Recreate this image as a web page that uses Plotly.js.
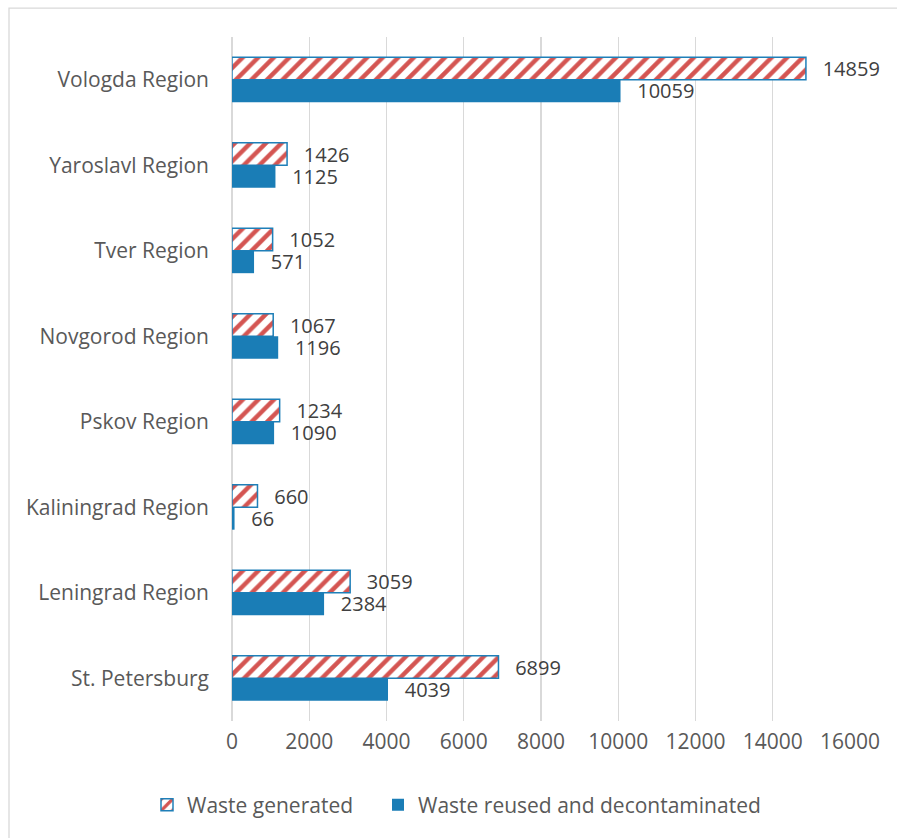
<!DOCTYPE html>
<html>
<head>
<meta charset="utf-8">
<script src="https://cdn.plot.ly/plotly-3.0.1.min.js"></script>
<style>html,body{margin:0;padding:0;background:#fff;}#chart{width:897px;height:838px;}</style>
</head>
<body>
<div id="chart"></div>
<script>
const regions = ["Vologda Region","Yaroslavl Region","Tver Region","Novgorod Region","Pskov Region","Kaliningrad Region","Leningrad Region","St. Petersburg"];
const wasteGenerated = [14859,1426,1052,1067,1234,660,3059,6899];
const wasteReused = [10059,1125,571,1196,1090,66,2384,4039];
const seriesNames = ["Waste generated","Waste reused and decontaminated"];
const xTicks = [0,2000,4000,6000,8000,10000,12000,14000,16000];

const FONT = "Open Sans, Noto Sans, sans-serif";
const PAD = "  \u2009";
const traces = [
  {
    type: "bar", orientation: "h", name: seriesNames[0], legend: "legend",
    y: regions, x: wasteGenerated,
    text: wasteGenerated.map(v => PAD + v), textposition: "outside",
    constraintext: "none",
    textfont: {size: 20, color: "#404040", family: FONT},
    cliponaxis: false,
    marker: {
      color: "#ffffff",
      line: {color: "#1f7fb8", width: 1.5},
      pattern: {shape: "/", fgcolor: "#d45552", bgcolor: "#ffffff", size: 11, solidity: 0.4}
    }
  },
  {
    type: "bar", orientation: "h", name: seriesNames[1], legend: "legend2",
    y: regions, x: wasteReused,
    text: wasteReused.map(v => PAD + v), textposition: "outside",
    constraintext: "none",
    textfont: {size: 20, color: "#404040", family: FONT},
    cliponaxis: false,
    marker: {color: "#1a7db6", line: {color: "#1a7db6", width: 0}}
  }
];

const legendBase = {orientation: "h", xanchor: "left", y: -0.093, yanchor: "top",
                    font: {size: 21, color: "#595959"}, itemwidth: 30, bgcolor: "rgba(0,0,0,0)"};

const layout = {
  width: 897, height: 838,
  margin: {l: 232, r: 47, t: 37, b: 115},
  paper_bgcolor: "#ffffff", plot_bgcolor: "#ffffff",
  font: {family: FONT, size: 21, color: "#595959"},
  barmode: "group", bargap: 0.475, bargroupgap: 0,
  showlegend: true,
  legend: Object.assign({}, legendBase, {x: (187 - 40 - 232) / 618}),
  legend2: Object.assign({}, legendBase, {x: (418 - 40 - 232) / 618}),
  xaxis: {range: [0, 16000], tickvals: xTicks, ticktext: xTicks.map(String),
          showgrid: true, gridcolor: "#d9d9d9", gridwidth: 1.3,
          zeroline: true, zerolinecolor: "#d9d9d9", zerolinewidth: 1.3,
          showline: false, ticks: "", ticklabelstandoff: 6, fixedrange: true},
  yaxis: {autorange: "reversed", type: "category", showgrid: false, zeroline: false,
          showline: false, ticks: "", ticklabelstandoff: 22, fixedrange: true},
  shapes: [{type: "rect", xref: "paper", yref: "paper",
            x0: (9 - 232) / 618, x1: (905 - 232) / 618,
            y0: -(850 - 723) / 686, y1: 1 + (37 - 8) / 686,
            line: {color: "#d9d9d9", width: 1.3}, fillcolor: "rgba(0,0,0,0)", layer: "below"}]
};

Plotly.newPlot("chart", traces, layout, {staticPlot: true, displayModeBar: false});
</script>
</body>
</html>
